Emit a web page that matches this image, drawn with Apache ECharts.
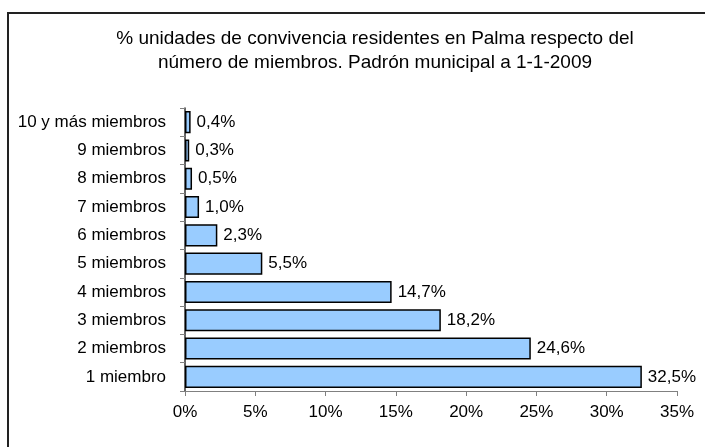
<!DOCTYPE html>
<html><head><meta charset="utf-8">
<script src="https://cdn.jsdelivr.net/npm/echarts@6/dist/echarts.min.js"></script>
<style>html,body{margin:0;padding:0;background:#fff}#c{width:705px;height:447px}</style>
</head><body><div id="c"></div>
<script>
const categories = ['1 miembro','2 miembros','3 miembros','4 miembros','5 miembros','6 miembros','7 miembros','8 miembros','9 miembros','10 y más miembros'];
const values = [32.5, 24.6, 18.2, 14.7, 5.5, 2.3, 1.0, 0.5, 0.3, 0.4];
const titleLines = ['% unidades de convivencia residentes en Palma respecto del', 'número de miembros. Padrón municipal a 1-1-2009'];
const font = '"Liberation Sans", Arial, sans-serif';
const chart = echarts.init(document.getElementById('c'), null, {renderer:'canvas'});
chart.setOption({
  animation:false,
  backgroundColor:'#fff',
  graphic:[{type:'rect', shape:{x:8,y:13,width:720,height:460}, style:{fill:'none', stroke:'#222', lineWidth:2}, z:-1}],
  title:{text:titleLines.join('\n'), left:370, textAlign:'center', top:22,
    textStyle:{fontFamily:font, fontSize:19, fontWeight:'normal', color:'#000', lineHeight:24}},
  grid:{left:185, right:28, top:108, bottom:56, containLabel:false},
  xAxis:{type:'value', min:0, max:35, interval:5,
    axisLine:{show:true, lineStyle:{color:'#808080', width:1}},
    axisTick:{show:true, length:5, lineStyle:{color:'#808080'}},
    splitLine:{show:false},
    axisLabel:{formatter:v=>v+'%', fontFamily:font, fontSize:17, color:'#000', margin:13}},
  yAxis:{type:'category', data:categories,
    axisLine:{show:true, lineStyle:{color:'#333', width:1.5}},
    axisTick:{show:true, length:5, lineStyle:{color:'#808080'}},
    axisLabel:{fontFamily:font, fontSize:17, color:'#000', margin:19}},
  series:[{type:'bar', data:values, barCategoryGap:'22%',
    itemStyle:{color:'#99CCFF', borderColor:'#000', borderWidth:1.5},
    label:{show:true, position:'right', distance:6, fontFamily:font, fontSize:17, color:'#000',
      formatter:p=>p.value.toFixed(1).replace('.',',')+'%'}}]
});
</script></body></html>
